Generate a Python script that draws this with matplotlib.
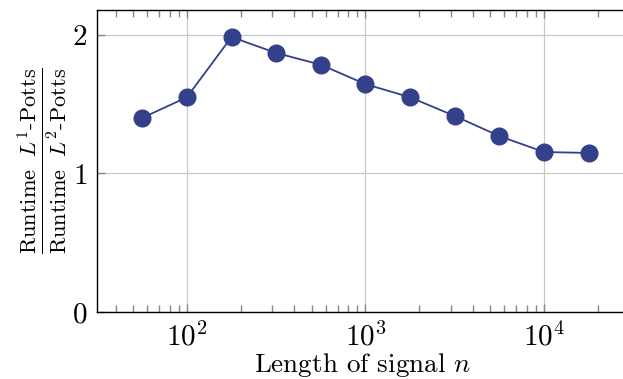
import numpy as np
import matplotlib.pyplot as plt
from matplotlib.ticker import LogLocator, NullFormatter

plt.rcParams['font.family'] = 'cmr10'
plt.rcParams['mathtext.fontset'] = 'cm'
plt.rcParams['axes.formatter.use_mathtext'] = True

# data
n = [56, 100, 178, 316, 562, 1000, 1778, 3162, 5623, 10000, 17783]
ratio = [1.40, 1.55, 1.985, 1.87, 1.785, 1.645, 1.55, 1.415, 1.27, 1.155, 1.148]
y_ticks = [0, 1, 2]

color = '#33418a'

fig = plt.figure(figsize=(6.23, 3.79), dpi=100)
ax = fig.add_axes([97 / 623, 1 - 312 / 379, 1 - 97 / 623 + 0.01, 302 / 379])

ax.plot(n, ratio, '-o', color=color, lw=1.3, ms=12, zorder=3, clip_on=False)

ax.set_xscale('log')
ax.set_xlim(31.4, 30000)
ax.set_ylim(0, 2.18)
ax.set_yticks(y_ticks)
ax.xaxis.set_major_locator(LogLocator(base=10, numticks=10))
ax.xaxis.set_minor_locator(LogLocator(base=10, subs=np.arange(2, 10), numticks=10))
ax.xaxis.set_minor_formatter(NullFormatter())

ax.grid(True, which='major', color='#c8c8c8', lw=0.9)
ax.set_axisbelow(True)
ax.tick_params(which='both', direction='in', color='#888888', top=True, right=False,
               labelsize=21, pad=7)
ax.tick_params(which='major', length=6, width=1)
ax.tick_params(which='minor', length=5, width=1)
ax.spines['right'].set_visible(False)
for s in ['left', 'top', 'bottom']:
    ax.spines[s].set_linewidth(1.0)

ax.set_xlabel(r'Length of signal $n$', fontsize=19.5, labelpad=0)
ax.set_ylabel(r'$\frac{\mathrm{Runtime}\ \ L^1\text{-}\mathrm{Potts}}{\mathrm{Runtime}\ \ L^2\text{-}\mathrm{Potts}}$',
              fontsize=23, labelpad=2)

fig.savefig('out.png', dpi=100)
